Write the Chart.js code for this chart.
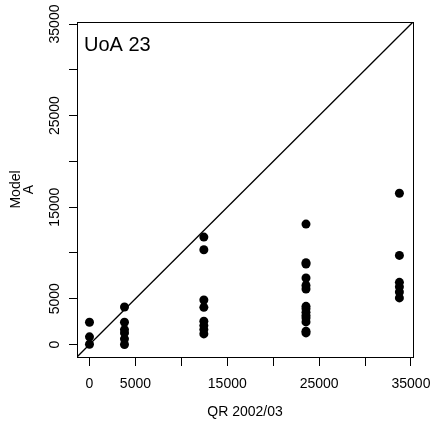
<!DOCTYPE html>
<html>
<head>
<meta charset="utf-8">
<script src="https://cdn.jsdelivr.net/npm/chart.js@4/dist/chart.umd.min.js"></script>
<style>
  html, body { margin: 0; padding: 0; background: #fff; }
  #wrap { width: 435px; height: 434px; }
</style>
</head>
<body>
<div id="wrap"><canvas id="uoaChart"></canvas></div>
<script>
// QR 2002/03 funding vs. Model A funding, UoA 23
const qr = [
    0, 0, 0,
    3810, 3810, 3810, 3810, 3810, 3810,
    12450, 12450, 12450, 12450, 12450, 12450, 12450, 12450,
    23570, 23570, 23570, 23570, 23570, 23570, 23570, 23570, 23570, 23570, 23570, 23570, 23570, 23570,
    33740, 33740, 33740, 33740, 33740, 33740
];
const modelA = [
    2430, 840, 30,
    4100, 2430, 1630, 1270, 620, 0,
    11730, 10350, 4870, 4060, 2540, 2070, 1630, 1160,
    13150, 8930, 8800, 7270, 6460, 6070, 4170, 3900, 3520, 3160, 2900, 2470, 1450, 1270,
    16525, 9730, 6790, 6300, 5740, 5090
];
const tickValues = [0, 5000, 10000, 15000, 20000, 25000, 30000, 35000];
const tickLabels = ['0', '5000', '', '15000', '', '25000', '', '35000'];

// same range on both axes (data range 0..33850 plus 4%)
const axisMin = -1360;
const axisMax = 35220;

const FONT = '"Liberation Sans", Arial, Helvetica, sans-serif';

const points = qr.map((x, i) => ({ x: x, y: modelA[i] }));

// box round the plot area plus the rotated y tick labels
const framePlugin = {
    id: 'frame',
    afterDraw(chart) {
        const c = chart.ctx;
        const a = chart.chartArea;
        c.save();
        c.strokeStyle = '#000';
        c.lineWidth = 1;
        c.strokeRect(Math.round(a.left) + 0.5, Math.round(a.top) + 0.5,
            Math.round(a.right - a.left), Math.round(a.bottom - a.top));

        const ys = chart.scales.y;
        c.fillStyle = '#000';
        c.font = '14px ' + FONT;
        c.textAlign = 'center';
        c.textBaseline = 'middle';
        tickValues.forEach((v, i) => {
            if (!tickLabels[i]) return;
            const py = ys.getPixelForValue(v);
            c.save();
            c.translate(55, py);
            c.rotate(-Math.PI / 2);
            c.fillText(tickLabels[i], 0, 0);
            c.restore();
        });

        // panel label
        c.font = '20px ' + FONT;
        c.textAlign = 'left';
        c.textBaseline = 'alphabetic';
        c.fillText('UoA 23', a.left + 7, a.top + 29);
        c.restore();
    }
};

const ctx = document.getElementById('uoaChart').getContext('2d');
const uoaChart = new Chart(ctx, {
    type: 'scatter',
    data: {
        datasets: [
            {
                type: 'line',
                data: [{ x: axisMin, y: axisMin }, { x: axisMax, y: axisMax }],
                borderColor: '#000',
                borderWidth: 1.3,
                pointRadius: 0,
                fill: false
            },
            {
                data: points,
                backgroundColor: '#000',
                borderWidth: 0,
                pointRadius: 4.5,
                pointHoverRadius: 4.5
            }
        ]
    },
    options: {
        responsive: true,
        maintainAspectRatio: false,
        animation: false,
        events: [],
        layout: { padding: { top: 22, right: 22, left: 0, bottom: 0 } },
        plugins: {
            legend: { display: false },
            tooltip: { enabled: false }
        },
        scales: {
            x: {
                type: 'linear',
                min: axisMin,
                max: axisMax,
                afterBuildTicks: s => { s.ticks = tickValues.map(v => ({ value: v })); },
                afterFit: s => { s.height = 77; s.paddingLeft = 0; s.paddingRight = 0; },
                ticks: {
                    autoSkip: false,
                    maxRotation: 0,
                    color: '#000',
                    padding: 10,
                    font: { family: FONT, size: 14 },
                    callback: v => tickLabels[tickValues.indexOf(v)]
                },
                grid: {
                    drawOnChartArea: false,
                    drawTicks: true,
                    tickLength: 9,
                    color: '#000'
                },
                border: { display: true, color: '#000' },
                title: {
                    display: true,
                    text: 'QR 2002/03',
                    color: '#000',
                    font: { family: FONT, size: 14 },
                    padding: { top: 0, bottom: 13 }
                }
            },
            y: {
                type: 'linear',
                min: axisMin,
                max: axisMax,
                afterBuildTicks: s => { s.ticks = tickValues.map(v => ({ value: v })); },
                afterFit: s => { s.width = 77; s.paddingTop = 0; s.paddingBottom = 0; },
                ticks: { display: false },
                grid: {
                    drawOnChartArea: false,
                    drawTicks: true,
                    tickLength: 8,
                    color: '#000'
                },
                border: { display: true, color: '#000' },
                title: {
                    display: true,
                    text: ['Model', 'A'],
                    color: '#000',
                    font: { family: FONT, size: 14, lineHeight: 0.9 },
                    padding: { top: 10, bottom: 0 }
                }
            }
        }
    },
    plugins: [framePlugin]
});
</script>
</body>
</html>
